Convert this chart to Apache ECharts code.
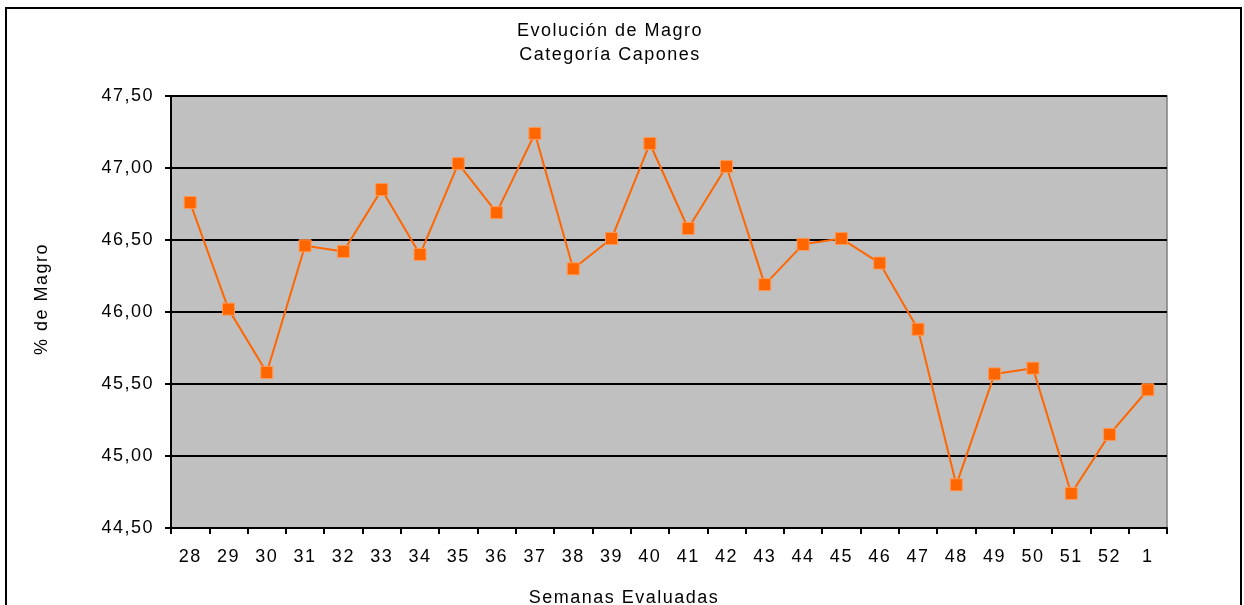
<!DOCTYPE html>
<html>
<head>
<meta charset="utf-8">
<script src="https://cdn.jsdelivr.net/npm/echarts@6/dist/echarts.min.js"></script>
<style>
  html, body { margin: 0; padding: 0; background: #fff; }
  #container { width: 1244px; height: 605px; }
</style>
</head>
<body>
<div id="container"></div>
<script>
// semanas evaluadas y % de magro
var semanas = ['28','29','30','31','32','33','34','35','36','37','38','39','40','41','42','43','44','45','46','47','48','49','50','51','52','1'];
var magro = [46.76, 46.02, 45.58, 46.46, 46.42, 46.85, 46.40, 47.03, 46.69, 47.24, 46.30, 46.51, 47.17, 46.58, 47.01, 46.19, 46.47, 46.51, 46.34, 45.88, 44.80, 45.57, 45.61, 44.74, 45.15, 45.46];

// el original tiene el texto algo espaciado, lo imitamos con letterSpacing del canvas
var origFill = CanvasRenderingContext2D.prototype.fillText;
CanvasRenderingContext2D.prototype.fillText = function () {
    this.letterSpacing = '1.5px';
    return origFill.apply(this, arguments);
};
var origMeasure = CanvasRenderingContext2D.prototype.measureText;
CanvasRenderingContext2D.prototype.measureText = function () {
    this.letterSpacing = '1.5px';
    return origMeasure.apply(this, arguments);
};

var dom = document.getElementById('container');
var myChart = echarts.init(dom);
var fuente = 'Liberation Sans, Arial, sans-serif';

var option = {
    backgroundColor: '#fff',
    animation: false,
    title: {
        text: 'Evolución de Magro\nCategoría Capones',
        left: 605,
        top: 14,
        textAlign: 'center',
        textStyle: {
            fontFamily: fuente,
            fontSize: 18,
            fontWeight: 'normal',
            color: '#000',
            lineHeight: 24
        }
    },
    graphic: [{
        type: 'rect',
        shape: { x: 6, y: 8, width: 1235, height: 620 },
        style: { fill: 'none', stroke: '#000', lineWidth: 2 },
        silent: true
    }, {
        // nombre eje x (centrado en el cuadro, no en el grid)
        type: 'text',
        x: 624,
        y: 598,
        style: {
            text: 'Semanas Evaluadas',
            font: '18px ' + fuente,
            fill: '#000',
            align: 'center',
            verticalAlign: 'middle'
        },
        silent: true
    }, {
        type: 'text',
        x: 42,
        y: 299,
        rotation: Math.PI / 2,
        style: {
            text: '% de Magro',
            font: '18px ' + fuente,
            fill: '#000',
            align: 'center',
            verticalAlign: 'middle'
        },
        silent: true
    }],
    grid: {
        left: 171,
        right: 77,
        top: 96,
        bottom: 77,
        outerBoundsMode: 'none',
        show: true,
        backgroundColor: '#C0C0C0',
        borderColor: '#808080',
        borderWidth: 1.5
    },
    xAxis: {
        type: 'category',
        data: semanas,
        boundaryGap: true,
        axisLine: { lineStyle: { color: '#000', width: 2 } },
        axisTick: { show: true, length: 6, lineStyle: { color: '#000', width: 2 } },
        axisLabel: { fontFamily: fuente, fontSize: 18, color: '#000', margin: 19, interval: 0 },
        splitLine: { show: false }
    },
    yAxis: {
        type: 'value',
        min: 44.5,
        max: 47.5,
        interval: 0.5,
        axisLine: { show: true, lineStyle: { color: '#000', width: 2 } },
        axisTick: { show: true, length: 6, lineStyle: { color: '#000', width: 2 } },
        axisLabel: {
            fontFamily: fuente,
            fontSize: 18,
            color: '#000',
            margin: 17,
            formatter: function (v) { return v.toFixed(2).replace('.', ','); }
        },
        splitLine: { show: true, lineStyle: { color: '#000', width: 2 } }
    },
    series: [{
        type: 'line',
        data: magro,
        symbol: 'rect',
        symbolSize: 12,
        lineStyle: { color: '#FF6600', width: 2 },
        itemStyle: { color: '#FF6600', borderColor: '#FF9955', borderWidth: 1 }
    }]
};

myChart.setOption(option);
</script>
</body>
</html>
